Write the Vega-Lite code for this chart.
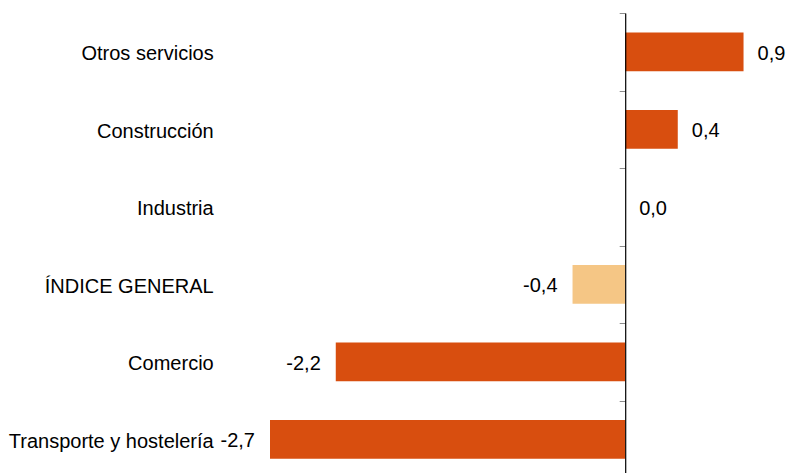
{
  "$schema": "https://vega.github.io/schema/vega-lite/v6.json",
  "width": 513,
  "height": 465,
  "autosize": "none",
  "padding": {"left": 270, "top": 13, "right": 4, "bottom": 0},
  "background": "white",
  "config": {
    "view": {"stroke": null},
    "font": "Liberation Sans",
    "locale": {"number": {"decimal": ",", "thousands": ".", "grouping": [3], "currency": ["", " €"], "minus": "-"}}
  },
  "data": {
    "values": [
      {"categoria": "Otros servicios", "valor": 0.9, "tipo": "sector"},
      {"categoria": "Construcción", "valor": 0.4, "tipo": "sector"},
      {"categoria": "Industria", "valor": 0.0, "tipo": "sector"},
      {"categoria": "ÍNDICE GENERAL", "valor": -0.4, "tipo": "general"},
      {"categoria": "Comercio", "valor": -2.2, "tipo": "sector"},
      {"categoria": "Transporte y hostelería", "valor": -2.7, "tipo": "sector"}
    ]
  },
  "encoding": {
    "y": {
      "field": "categoria",
      "type": "nominal",
      "sort": null,
      "scale": {"paddingInner": 0, "paddingOuter": 0},
      "axis": {
        "title": null,
        "orient": "left",
        "offset": -355.2,
        "tickBand": "extent",
        "tickSize": 6,
        "tickColor": "#8c8c8c",
        "tickWidth": 1,
        "domainColor": "#000000",
        "domainWidth": 1.2,
        "labelPadding": 406,
        "labelFontSize": 20,
        "labelOffset": 2,
        "labelColor": "#000000",
        "labelFont": "Liberation Sans",
        "labelLimit": 400,
        "zindex": 1
      }
    }
  },
  "layer": [
    {
      "mark": {"type": "bar", "height": {"band": 0.5}},
      "encoding": {
        "x": {
          "field": "valor",
          "type": "quantitative",
          "scale": {"domain": [-2.7, 1.2], "nice": false, "zero": false},
          "axis": null
        },
        "color": {
          "field": "tipo",
          "type": "nominal",
          "scale": {"domain": ["sector", "general"], "range": ["#d84e0f", "#f5c685"]},
          "legend": null
        }
      }
    },
    {
      "transform": [{"filter": "datum.valor >= 0"}],
      "mark": {"type": "text", "align": "left", "baseline": "middle", "dx": 14, "dy": 2, "fontSize": 20, "color": "#000000"},
      "encoding": {
        "x": {"field": "valor", "type": "quantitative"},
        "text": {"field": "valor", "type": "quantitative", "format": ".1f"}
      }
    },
    {
      "transform": [{"filter": "datum.valor < 0"}],
      "mark": {"type": "text", "align": "right", "baseline": "middle", "dx": -15, "dy": 2, "fontSize": 20, "color": "#000000"},
      "encoding": {
        "x": {"field": "valor", "type": "quantitative"},
        "text": {"field": "valor", "type": "quantitative", "format": ".1f"}
      }
    }
  ]
}
